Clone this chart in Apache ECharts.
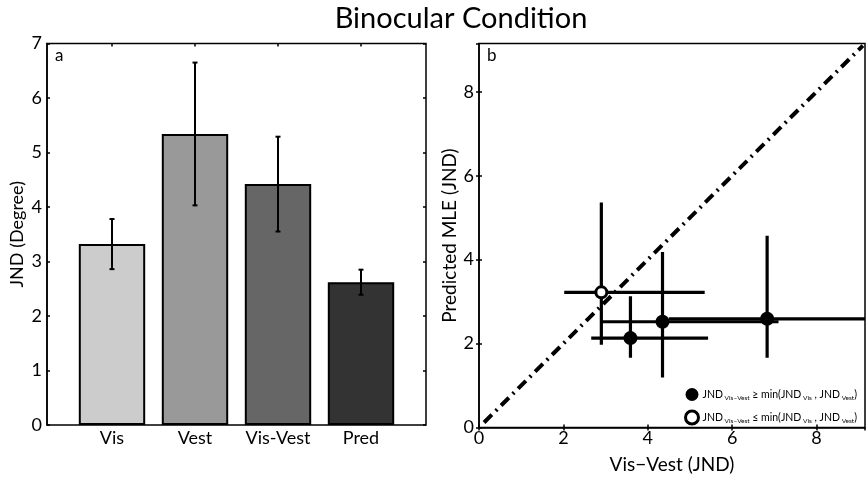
<!DOCTYPE html>
<html>
<head>
<meta charset="utf-8">
<script src="https://cdn.jsdelivr.net/npm/echarts@6/dist/echarts.min.js"></script>
<style>html,body{margin:0;padding:0;background:#fff;}#c{width:866px;height:486px;}</style>
</head>
<body>
<div id="c"></div>
<script>
// ---- Panel a data ----
const categories = ['Vis', 'Vest', 'Vis-Vest', 'Pred'];
const jndMean = [3.32, 5.34, 4.42, 2.62];
const jndErr = [0.46, 1.31, 0.87, 0.23];
const barColors = ['#cccccc', '#999999', '#666666', '#333333'];
const yTicksA = [0, 1, 2, 3, 4, 5, 6, 7];

// ---- Panel b data ----
const visVest = [2.90, 3.59, 4.35, 6.83];
const predMLE = [3.22, 2.13, 2.52, 2.59];
const xLow = [2.02, 2.66, 2.90, 4.50];
const xHigh = [5.35, 5.43, 7.10, 10.5];
const yLow = [1.97, 1.66, 1.19, 1.66];
const yHigh = [5.36, 3.13, 4.18, 4.57];
const isOpen = [true, false, false, false];
const diagLine = [[0.12, 0.12], [9.1, 9.1]];

const FONT = 'Lato';
const filledName = 'filled';
const openName = 'open';

const barData = jndMean.map((v, i) => ({ value: v, itemStyle: { color: barColors[i] } }));
const barErrData = jndMean.map((v, i) => [i, v - jndErr[i], v + jndErr[i]]);
const crossData = visVest.map((x, i) => [x, predMLE[i], xLow[i], xHigh[i], yLow[i], yHigh[i]]);
const filledPts = visVest.map((x, i) => isOpen[i] ? null : [x, predMLE[i]]).filter(d => d);
const openPts = visVest.map((x, i) => isOpen[i] ? [x, predMLE[i]] : null).filter(d => d);

const chart = echarts.init(document.getElementById('c'), null, { renderer: 'canvas' });

const legendRich = {
  m: { fontFamily: FONT, fontSize: 10.5, color: '#000', lineHeight: 14, verticalAlign: 'middle' },
  s: { fontFamily: FONT, fontSize: 6.5, color: '#000', lineHeight: 14, verticalAlign: 'bottom', padding: [5, 0, 0, 0] }
};

const tickFont = 18;
const nameFont = 19;

const option = {
  animation: false,
  backgroundColor: '#fff',
  textStyle: { fontFamily: FONT },
  title: [
    { text: 'Binocular Condition', left: 456, top: -1, textAlign: 'center',
      textStyle: { fontFamily: FONT, fontSize: 29, fontWeight: 'normal', color: '#000' } },
    { text: 'a', left: 50, top: 42, textStyle: { fontFamily: FONT, fontSize: 17, fontWeight: 'normal', color: '#000' } },
    { text: 'b', left: 482, top: 42, textStyle: { fontFamily: FONT, fontSize: 17, fontWeight: 'normal', color: '#000' } }
  ],
  grid: [
    { left: 47, right: 440, top: 43.5, bottom: 61, show: true, borderColor: '#000', borderWidth: 1.5, backgroundColor: 'transparent' },
    { left: 70.5, right: 463.5, top: 43.5, bottom: 61 },
    { left: 479, right: 1, top: 43.5, bottom: 58.5, show: true, borderColor: '#000', borderWidth: 1.5, backgroundColor: 'transparent' }
  ],
  xAxis: [
    { gridIndex: 0, type: 'value', min: 0, max: 1, show: false },
    { gridIndex: 1, type: 'category', data: categories, position: 'bottom',
      axisLine: { show: false }, axisTick: { show: false },
      axisLabel: { fontFamily: FONT, fontSize: tickFont, color: '#000', margin: 4, interval: 0, hideOverlap: false } },
    { gridIndex: 1, type: 'category', data: categories, position: 'top',
      axisLine: { show: false }, axisLabel: { show: false },
      axisTick: { show: true, alignWithLabel: true, inside: true, length: 3, lineStyle: { color: '#000', width: 1.5 } } },
    { gridIndex: 2, type: 'value', min: 0, max: 9.15, interval: 2, position: 'bottom',
      axisLine: { show: true, lineStyle: { color: '#000', width: 1.5 } },
      axisTick: { inside: true, length: 3, lineStyle: { color: '#000', width: 1.5 } },
      axisLabel: { fontFamily: FONT, fontSize: tickFont, color: '#000', margin: 2, showMaxLabel: false,
        formatter: v => (Math.abs(v % 2) < 1e-9 ? String(v) : '') },
      splitLine: { show: false },
      name: 'Vis\u2212Vest (JND)', nameLocation: 'middle', nameGap: 28,
      nameTextStyle: { fontFamily: FONT, fontSize: nameFont, color: '#000' } },
    { gridIndex: 2, type: 'value', min: 0, max: 9.15, interval: 2, position: 'top',
      axisLine: { show: false }, axisLabel: { show: false }, splitLine: { show: false },
      axisTick: { inside: true, length: 3, lineStyle: { color: '#000', width: 1.5 } } }
  ],
  yAxis: [
    { gridIndex: 0, type: 'value', min: 0, max: 7, interval: 1, position: 'left',
      axisLine: { show: true, lineStyle: { color: '#000', width: 1.5 } },
      axisTick: { show: true, inside: true, length: 3, lineStyle: { color: '#000', width: 1.5 } },
      axisLabel: { fontFamily: FONT, fontSize: tickFont, color: '#000', margin: 5,
        formatter: v => (yTicksA.indexOf(v) >= 0 ? String(v) : '') },
      splitLine: { show: false },
      name: 'JND (Degree)', nameLocation: 'middle', nameGap: 21,
      nameTextStyle: { fontFamily: FONT, fontSize: 18, color: '#000' } },
    { gridIndex: 0, type: 'value', min: 0, max: 7, interval: 1, position: 'right',
      axisLine: { show: false }, axisLabel: { show: false }, splitLine: { show: false },
      axisTick: { show: true, inside: true, length: 3, lineStyle: { color: '#000', width: 1.5 } } },
    { gridIndex: 1, type: 'value', min: 0, max: 7, show: false, splitLine: { show: false } },
    { gridIndex: 2, type: 'value', min: 0, max: 9.15, interval: 2, position: 'left',
      axisLine: { show: true, lineStyle: { color: '#000', width: 1.5 } },
      axisTick: { inside: true, length: 3, lineStyle: { color: '#000', width: 1.5 } },
      axisLabel: { fontFamily: FONT, fontSize: tickFont, color: '#000', margin: 5, showMaxLabel: false,
        formatter: v => (Math.abs(v % 2) < 1e-9 ? String(v) : '') },
      splitLine: { show: false },
      name: 'Predicted MLE (JND)', nameLocation: 'middle', nameGap: 19,
      nameTextStyle: { fontFamily: FONT, fontSize: nameFont, color: '#000' } },
    { gridIndex: 2, type: 'value', min: 0, max: 9.15, interval: 2, position: 'right',
      axisLine: { show: false }, axisLabel: { show: false }, splitLine: { show: false },
      axisTick: { inside: true, length: 3, lineStyle: { color: '#000', width: 1.5 } } }
  ],
  legend: {
    orient: 'vertical', left: 679, top: 383, itemWidth: 13, itemHeight: 13, itemGap: 8,
    icon: 'circle',
    data: [
      { name: filledName, itemStyle: { color: '#000', borderColor: '#000', borderWidth: 0 } },
      { name: openName, itemStyle: { color: '#fff', borderColor: '#000', borderWidth: 3 } }
    ],
    selectedMode: false,
    textStyle: { rich: legendRich, padding: [0, 0, 0, -1] },
    formatter: function (name) {
      const op = name === filledName ? ' \u2265 ' : ' \u2264 ';
      return '{m|JND}{s| Vis\u2212Vest}{m|' + op + 'min(JND}{s| Vis}{m| , JND}{s| Vest}{m|)}';
    }
  },
  series: [
    { type: 'bar', xAxisIndex: 1, yAxisIndex: 2, data: barData, barWidth: '80%',
      itemStyle: { borderColor: '#000', borderWidth: 2 }, z: 2 },
    { type: 'custom', xAxisIndex: 1, yAxisIndex: 2, data: barErrData, z: 3,
      renderItem: function (params, api) {
        const x = api.value(0);
        const lo = api.coord([x, api.value(1)]);
        const hi = api.coord([x, api.value(2)]);
        const style = { stroke: '#000', lineWidth: 2 };
        const cw = 2.5;
        return { type: 'group', children: [
          { type: 'line', shape: { x1: lo[0], y1: lo[1], x2: hi[0], y2: hi[1] }, style: style },
          { type: 'line', shape: { x1: lo[0] - cw, y1: lo[1], x2: lo[0] + cw, y2: lo[1] }, style: style },
          { type: 'line', shape: { x1: hi[0] - cw, y1: hi[1], x2: hi[0] + cw, y2: hi[1] }, style: style }
        ] };
      } },
    { type: 'line', xAxisIndex: 3, yAxisIndex: 3, data: diagLine, symbol: 'none', silent: true,
      lineStyle: { color: '#000', width: 4, type: [11, 5.5, 2, 5.5], cap: 'butt' }, z: 2 },
    { type: 'custom', xAxisIndex: 3, yAxisIndex: 3, data: crossData, z: 3,
      clip: true,
      renderItem: function (params, api) {
        const cx = api.value(0), cy = api.value(1);
        const l = api.coord([api.value(2), cy]);
        const r = api.coord([api.value(3), cy]);
        const b = api.coord([cx, api.value(4)]);
        const t = api.coord([cx, api.value(5)]);
        const style = { stroke: '#000', lineWidth: 3.2 };
        const cs = params.coordSys;
        return { type: 'group', clipPath: { type: 'rect', shape: { x: cs.x, y: cs.y, width: cs.width, height: cs.height } },
          children: [
          { type: 'line', shape: { x1: l[0], y1: l[1], x2: r[0], y2: r[1] }, style: style },
          { type: 'line', shape: { x1: b[0], y1: b[1], x2: t[0], y2: t[1] }, style: style }
        ] };
      } },
    { name: filledName, type: 'scatter', xAxisIndex: 3, yAxisIndex: 3, data: filledPts,
      symbol: 'circle', symbolSize: 14, itemStyle: { color: '#000', opacity: 1 }, z: 5 },
    { name: openName, type: 'scatter', xAxisIndex: 3, yAxisIndex: 3, data: openPts,
      symbol: 'circle', symbolSize: 11, itemStyle: { color: '#fff', borderColor: '#000', borderWidth: 3, opacity: 1 }, z: 5 }
  ]
};
chart.setOption(option);
</script>
</body>
</html>
